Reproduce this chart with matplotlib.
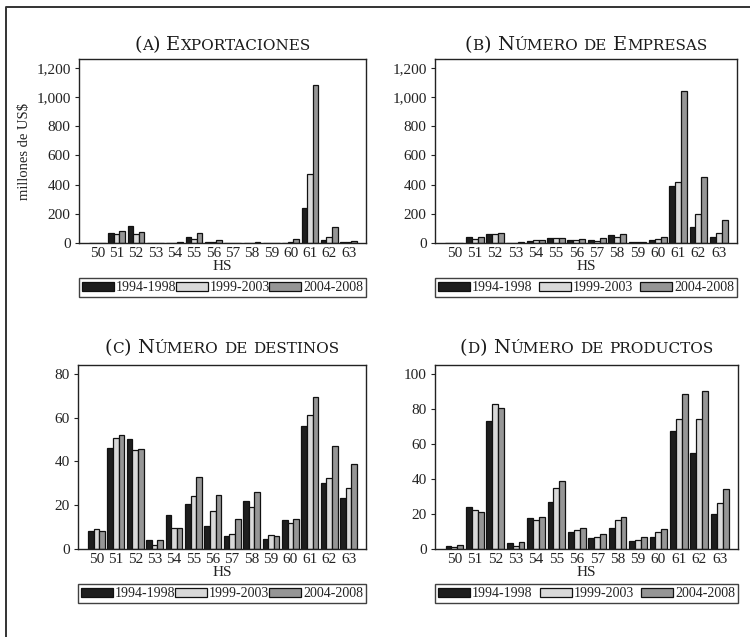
import matplotlib
matplotlib.use('Agg')
import matplotlib.pyplot as plt
from matplotlib.lines import Line2D
from matplotlib.ticker import FuncFormatter
import numpy as np

# capitulos del sistema armonizado
hs = ['50', '51', '52', '53', '54', '55', '56', '57', '58', '59', '60', '61', '62', '63']
periodos = ['1994-1998', '1999-2003', '2004-2008']
colores = ['#1e1e1e', '#d9d9d9', '#969696']

# (a) exportaciones, millones de US$
exp_9498 = [1, 68, 114, 1, 1, 38, 8, 1, 1, 1, 2, 240, 20, 5]
exp_9903 = [1, 60, 60, 1, 1, 30, 8, 1, 1, 1, 6, 475, 39, 5]
exp_0408 = [1, 80, 75, 1, 5, 66, 20, 2, 5, 1, 27, 1085, 110, 14]

# (b) numero de empresas
emp_9498 = [2, 43, 62, 2, 16, 32, 18, 18, 55, 7, 18, 388, 111, 39]
emp_9903 = [2, 30, 60, 3, 21, 32, 21, 14, 43, 10, 25, 416, 198, 68]
emp_0408 = [2, 41, 69, 6, 23, 32, 30, 34, 62, 10, 39, 1042, 452, 157]

# (c) numero de destinos
des_9498 = [8.3, 46, 50.2, 4, 15.3, 20.5, 10.3, 6, 21.7, 4.5, 13.3, 56, 30, 23.5]
des_9903 = [9.2, 50.5, 45.3, 1.8, 9.7, 24.3, 17.2, 6.8, 19, 6.3, 11.8, 61.3, 32.5, 28]
des_0408 = [8.3, 52, 45.7, 4, 9.8, 33, 24.5, 13.8, 26, 5.8, 13.8, 69.6, 46.8, 39]

# (d) numero de productos
pro_9498 = [1.9, 24.2, 73.1, 3.4, 17.9, 26.9, 9.9, 6.3, 11.8, 4.6, 6.7, 67.6, 54.9, 20.2]
pro_9903 = [1.0, 22, 82.7, 1.7, 16.6, 34.9, 10.9, 6.9, 16.6, 5, 9.9, 73.9, 74.3, 26.3]
pro_0408 = [2.3, 21.3, 80.4, 3.8, 18.3, 39, 12, 8.8, 18.3, 6.7, 11.2, 88.6, 90.1, 34.3]

paneles = [
    ('(a) Exportaciones', [exp_9498, exp_9903, exp_0408], [0, 200, 400, 600, 800, 1000, 1200], 1260, 'millones de US$'),
    ('(b) Número de Empresas', [emp_9498, emp_9903, emp_0408], [0, 200, 400, 600, 800, 1000, 1200], 1260, None),
    ('(c) Número de destinos', [des_9498, des_9903, des_0408], [0, 20, 40, 60, 80], 84, None),
    ('(d) Número de productos', [pro_9498, pro_9903, pro_0408], [0, 20, 40, 60, 80, 100], 105, None),
]

W, H = 750, 637
cajas = [(79, 59, 366, 243), (435, 59, 737, 243), (78, 365, 366, 549), (435, 365, 738, 549)]
titulo_y = [50, 50, 353, 353]

SERIF = 'Liberation Serif'
TSERIF = 'DejaVu Serif'

fig = plt.figure(figsize=(7.5, 6.37), dpi=100)
renderer = fig.canvas.get_renderer()


def versalitas(xc, yb, texto, grande=14, chica=11):
    # texto en versalitas: mayusculas grandes, minusculas como mayusculas chicas
    trozos = []
    for ch in texto:
        if ch.islower():
            s, sz = ch.upper(), chica
        else:
            s, sz = ch, grande
        if trozos and trozos[-1][1] == sz and ch != ' ' and trozos[-1][0] != ' ':
            trozos[-1][0] += s
        else:
            trozos.append([s, sz])
    objs = []
    anchos = []
    for s, sz in trozos:
        if s == ' ':
            objs.append(None)
            anchos.append(0.30 * sz * fig.dpi / 72)
            continue
        t = fig.text(0, yb, s, fontsize=sz, family=TSERIF, color='#1a1a1a',
                     ha='left', va='baseline')
        objs.append(t)
        anchos.append(t.get_window_extent(renderer).width)
    x = xc * W - sum(anchos) / 2
    for t, w in zip(objs, anchos):
        if t is not None:
            t.set_x(x / W)
        x += w


miles = FuncFormatter(lambda v, p: '{:,.0f}'.format(v))
x = np.arange(len(hs))
ancho = 0.29

for (titulo, series, yticks, ymax, ylab), (l, t, r, b), ty in zip(paneles, cajas, titulo_y):
    ax = fig.add_axes([l / W, 1 - b / H, (r - l) / W, (b - t) / H])
    for i, (serie, color, nombre) in enumerate(zip(series, colores, periodos)):
        ax.bar(x + (i - 1) * ancho, serie, width=ancho, color=color,
               edgecolor='#111111', linewidth=0.9, label=nombre)
    ax.set_xlim(-0.95, 13.9)
    ax.set_ylim(0, ymax)
    ax.set_xticks(x)
    ax.set_xticklabels(hs)
    ax.set_yticks(yticks)
    ax.yaxis.set_major_formatter(miles)
    ax.tick_params(axis='x', length=0, pad=3, labelsize=11, colors='#222222')
    ax.tick_params(axis='y', length=3, width=0.8, direction='out', pad=3,
                   labelsize=11, colors='#222222')
    for lab in ax.get_xticklabels() + ax.get_yticklabels():
        lab.set_family(SERIF)
    for sp in ax.spines.values():
        sp.set_linewidth(1.0)
        sp.set_color('#222222')
    ax.set_xlabel('HS', family=SERIF, fontsize=11, color='#222222', labelpad=0)
    if ylab:
        ax.set_ylabel(ylab.replace('$', r'\$'), family=SERIF, fontsize=10.5,
                      color='#222222', labelpad=4)
    leg = ax.legend(loc='upper left', bbox_to_anchor=(0, -0.19, 1, 0), mode='expand',
                    ncol=3, fancybox=False, frameon=True, edgecolor='#111111',
                    handlelength=2.3, handleheight=0.6, handletextpad=0.15,
                    columnspacing=0.1, borderpad=0.22, borderaxespad=0,
                    prop={'family': SERIF, 'size': 10})
    leg.get_frame().set_linewidth(1.0)
    for txt in leg.get_texts():
        txt.set_color('#222222')
    versalitas((l + r) / 2 / W, 1 - ty / H, titulo)

# marco exterior: solo arriba y a la izquierda
fig.add_artist(Line2D([6 / W, 6 / W, 1], [0, 1 - 7 / H, 1 - 7 / H],
                      transform=fig.transFigure, color='#333333', linewidth=1.4))

fig.savefig('out.png', dpi=100)
